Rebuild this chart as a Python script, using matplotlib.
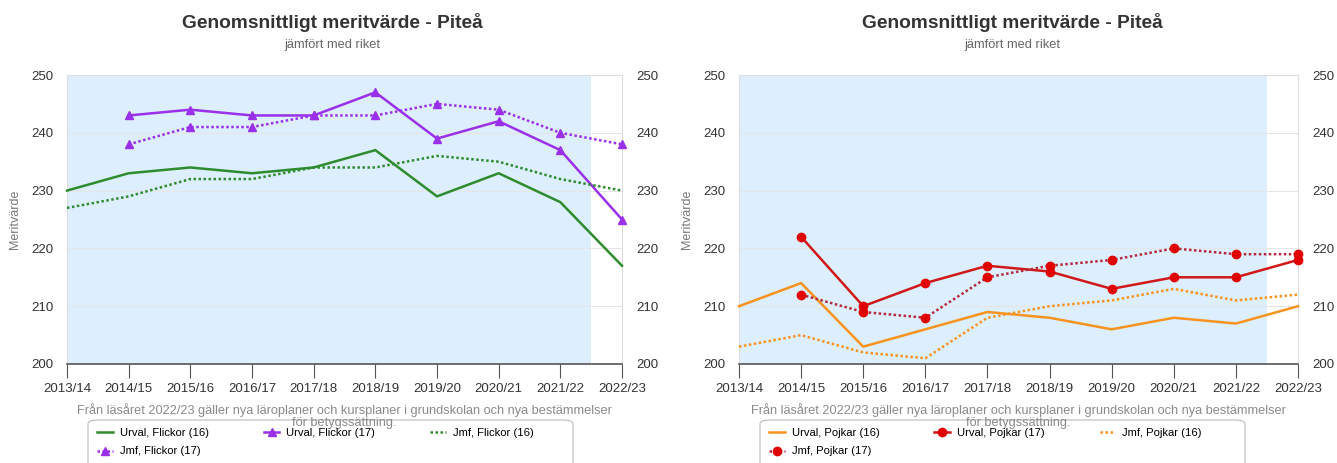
import matplotlib
matplotlib.use("Agg")
import matplotlib.pyplot as plt
from matplotlib.patches import FancyBboxPatch
import numpy as np

plt.rcParams['font.family'] = ['Liberation Sans', 'DejaVu Sans']

years = ['2013/14', '2014/15', '2015/16', '2016/17', '2017/18', '2018/19',
         '2019/20', '2020/21', '2021/22', '2022/23']

# flickor
urval_f16 = [230, 233, 234, 233, 234, 237, 229, 233, 228, 217]
jmf_f16 = [227, 229, 232, 232, 234, 234, 236, 235, 232, 230]
urval_f17 = [np.nan, 243, 244, 243, 243, 247, 239, 242, 237, 225]
jmf_f17 = [np.nan, 238, 241, 241, 243, 243, 245, 244, 240, 238]

# pojkar
urval_p16 = [210, 214, 203, 206, 209, 208, 206, 208, 207, 210]
jmf_p16 = [203, 205, 202, 201, 208, 210, 211, 213, 211, 212]
urval_p17 = [np.nan, 222, 210, 214, 217, 216, 213, 215, 215, 218]
jmf_p17 = [np.nan, 212, 209, 208, 215, 217, 218, 220, 219, 219]

yticks = [200, 210, 220, 230, 240, 250]

title = 'Genomsnittligt meritvärde - Piteå'
subtitle = 'jämfört med riket'
note = ('Från läsåret 2022/23 gäller nya läroplaner och kursplaner i grundskolan och nya bestämmelser\n'
        'för betygssättning.')

W, H = 1337, 463
fig = plt.figure(figsize=(W / 100, H / 100), dpi=100)


def make_panel(x0, x1, series, cx):
    ax = fig.add_axes([x0 / W, 1 - 364 / H, (x1 - x0) / W, (364 - 75) / H])
    x = np.arange(len(years))
    ax.axvspan(0, 8.5, color='#ddeeff', zorder=0, lw=0)
    for yv in yticks[1:-1]:
        ax.axhline(yv, color='#e6e6e6', lw=0.8, zorder=1)
    handles = []
    for vals, color, mcolor, ls, marker, ms, label in series:
        h, = ax.plot(x, vals, color=color, ls=ls, lw=1.8, marker=marker,
                     markersize=ms, markerfacecolor=mcolor, markeredgecolor=mcolor,
                     label=label, zorder=3, clip_on=False)
        if ls == ':':
            h.set_dashes((1, 1))
        handles.append(h)
    ax.set_xlim(0, 9)
    ax.set_ylim(200, 250)
    ax.set_yticks(yticks)
    ax.set_xticks(x)
    ax.set_xticklabels(years)
    ax.tick_params(axis='x', length=10, color='#555555', labelsize=9.5, labelcolor='#333333', pad=4)
    ax.tick_params(axis='y', length=0, labelsize=9.5, labelcolor='#333333', pad=10,
                   labelright=True, right=False)
    for s in ['top', 'right', 'left']:
        ax.spines[s].set_color('#dddddd')
        ax.spines[s].set_linewidth(0.8)
    ax.spines['bottom'].set_color('#555555')
    ax.spines['bottom'].set_linewidth(1.2)
    ax.set_ylabel('Meritvärde', color='#777777', fontsize=9, labelpad=7)
    fig.text(cx / W, 1 - 22 / H, title, ha='center', va='center', fontsize=13.8,
             fontweight='bold', color='#333333')
    fig.text(cx / W, 1 - 45 / H, subtitle, ha='center', va='center', fontsize=9.3, color='#666666')
    # legend frame drawn separately so it matches the reference width
    box = FancyBboxPatch(((x0 + 21) / W, 1 - 480 / H), 485 / W, 60 / H,
                         boxstyle='round,pad=0,rounding_size=0.008',
                         transform=fig.transFigure, facecolor='white',
                         edgecolor='#bbbbbb', lw=0.8, zorder=2)
    fig.patches.append(box)
    fig.text((x0 + x1) / 2 / W, 1 - 416 / H, note, ha='center', va='center',
             fontsize=9.2, color='#8a8a8a', linespacing=1.0, zorder=4)
    # row-major order for 3 columns
    order = [handles[0], handles[3], handles[1], handles[2]]
    leg = fig.legend(handles=order, loc='upper left',
                     bbox_to_anchor=((x0 + 30) / W, 1 - 428 / H), ncol=3,
                     fontsize=8.1, frameon=False,
                     handlelength=1.4, columnspacing=4.9, handletextpad=0.6,
                     borderpad=0.0, labelspacing=0.75, borderaxespad=0)
    leg.set_zorder(5)
    return ax


green = '#2e8b2e'
purple = '#9b30ea'
orange = '#f7931e'
red = '#d01818'
darkred = '#b52a3c'
dotred = '#e00000'

make_panel(67, 622, [
    (urval_f16, green, green, '-', None, 0, 'Urval, Flickor (16)'),
    (urval_f17, purple, purple, '-', '^', 5.5, 'Urval, Flickor (17)'),
    (jmf_f16, green, green, ':', None, 0, 'Jmf, Flickor (16)'),
    (jmf_f17, purple, purple, ':', '^', 5.5, 'Jmf, Flickor (17)'),
], 332)

make_panel(739, 1298, [
    (urval_p16, orange, orange, '-', None, 0, 'Urval, Pojkar (16)'),
    (urval_p17, red, dotred, '-', 'o', 6, 'Urval, Pojkar (17)'),
    (jmf_p16, orange, orange, ':', None, 0, 'Jmf, Pojkar (16)'),
    (jmf_p17, darkred, dotred, ':', 'o', 6, 'Jmf, Pojkar (17)'),
], 1012)

fig.savefig('out.png', dpi=100)
